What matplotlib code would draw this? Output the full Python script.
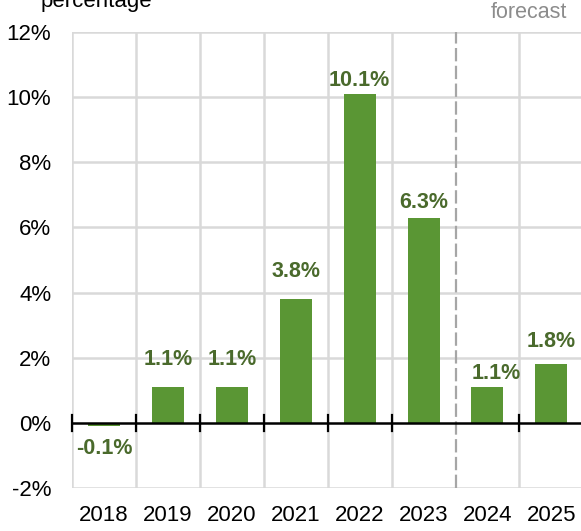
import matplotlib.pyplot as plt
import numpy as np

plt.rcParams['font.family'] = ['Liberation Sans', 'DejaVu Sans']

years = ['2018', '2019', '2020', '2021', '2022', '2023', '2024', '2025']
growth = [-0.1, 1.1, 1.1, 3.8, 10.1, 6.3, 1.1, 1.8]
y_ticks = [-2, 0, 2, 4, 6, 8, 10, 12]
forecast_start = 6  # index of first forecast year

bar_color = '#5a9634'
label_color = '#4a6a2c'
grid_color = '#d9d9d9'

fig = plt.figure(figsize=(5.81, 5.31), dpi=100)
ax = fig.add_axes([0.124, 0.081, 0.88, 0.859])

x = np.arange(len(years))
ax.bar(x, growth, width=0.5, color=bar_color, zorder=3)

# value labels (offsets in points from the bar end)
offsets = [-16, 19.5, 19.5, 19.5, 9.5, 11, 10, 16.5]
for xi, v, off in zip(x, growth, offsets):
    ax.annotate(f'{v:.1f}%', (xi, v), xytext=(6 if xi == 6 else 0, off), textcoords='offset points',
                ha='center', va='center', fontsize=15.5, fontweight='bold', color=label_color, zorder=5)

ax.set_xlim(-0.5, len(years) - 0.5)
ax.set_ylim(-2, 12)

# grid: horizontal lines every 2%, vertical lines between years
for yv in y_ticks:
    if yv != 0:
        ax.axhline(yv, color=grid_color, lw=1.8, zorder=1)
for b in np.arange(-0.5, len(years)):
    if b == forecast_start - 0.5:
        ax.axvline(b, color='#a6a6a6', lw=1.6, ls=(0, (6, 2)), zorder=1)
    else:
        ax.axvline(b, color=grid_color, lw=1.8, zorder=1)

# zero line with crossing tick marks
ax.axhline(0, color='black', lw=1.8, zorder=4)
for b in np.arange(-0.5, len(years)):
    if b != forecast_start - 0.5:
        ax.plot([b, b], [-0.25, 0.25], color='black', lw=1.6, zorder=4, clip_on=False)

for s in ax.spines.values():
    s.set_visible(False)

ax.set_xticks(x)
ax.set_xticklabels(years, fontsize=16)
ax.set_yticks(y_ticks)
ax.set_yticklabels([f'{v}%' for v in y_ticks], fontsize=16)
ax.tick_params(length=0)
ax.tick_params(axis='x', pad=12)
ax.tick_params(axis='y', pad=15)

fig.text(0.069, 0.987, 'percentage', fontsize=16, ha='left', va='baseline')
fig.text(0.976, 0.966, 'forecast', fontsize=15.5, ha='right', va='baseline', color='#8c8c8c')

fig.savefig('out.png', dpi=100)
